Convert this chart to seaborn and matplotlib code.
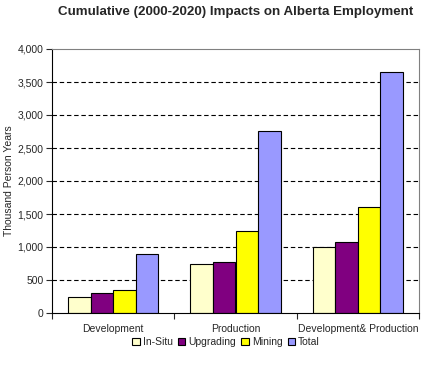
import matplotlib
matplotlib.use("Agg")
import matplotlib.pyplot as plt
import seaborn as sns
import pandas as pd
import numpy as np
from matplotlib.ticker import FuncFormatter, MultipleLocator, FixedLocator

categories = ["Development", "Production", "Development& Production"]
series = ["In-Situ", "Upgrading", "Mining", "Total"]
in_situ = [250, 750, 1000]
upgrading = [300, 770, 1075]
mining = [350, 1250, 1600]
total = [900, 2760, 3655]
colors = ["#FFFFCC", "#800080", "#FFFF00", "#9999FF"]

rows = []
for s, vals in zip(series, [in_situ, upgrading, mining, total]):
    for c, v in zip(categories, vals):
        rows.append({"Category": c, "Series": s, "Value": v})
df = pd.DataFrame(rows)

sns.set_style("white")
plt.rcParams["font.family"] = ["Liberation Sans", "DejaVu Sans"]

fig = plt.figure(figsize=(4.26, 3.70), dpi=100)
ax = fig.add_axes([52/426, 1 - 313/370, (419-52)/426, (313-49)/370])

sns.barplot(data=df, x="Category", y="Value", hue="Series", palette=colors,
            saturation=1, width=0.74, edgecolor="black", linewidth=0.8, ax=ax, legend=True)

ax.set_ylim(0, 4000)
ax.set_xlim(-0.5, 2.5)
ax.yaxis.set_major_locator(MultipleLocator(500))
ax.yaxis.set_major_formatter(FuncFormatter(lambda v, p: f"{int(v):,}"))
for y in range(500, 4000, 500):
    ax.axhline(y, color="black", linestyle=(0, (4, 2.5)), linewidth=0.8, zorder=0)
ax.set_axisbelow(True)

ax.set_xlabel("")
ax.set_ylabel("Thousand Person Years", fontsize=7.5, labelpad=3)
ax.tick_params(axis="y", labelsize=7.5, length=4, direction="out", left=True, width=0.8, pad=2)
ax.tick_params(axis="x", which="major", labelsize=7.5, length=0, pad=8)
ax.xaxis.set_minor_locator(FixedLocator([-0.5, 0.5, 1.5, 2.5]))
ax.tick_params(axis="x", which="minor", length=4, width=0.8, bottom=True, direction="out")

for side in ["top", "right"]:
    ax.spines[side].set_visible(True)
    ax.spines[side].set_color("#808080")
    ax.spines[side].set_linewidth(0.8)
for side in ["left", "bottom"]:
    ax.spines[side].set_color("black")
    ax.spines[side].set_linewidth(0.8)

leg = ax.legend(loc="center", bbox_to_anchor=(226/426, 1 - 342/370),
                bbox_transform=fig.transFigure, ncol=4, frameon=False,
                fontsize=7.5, handlelength=0.7, handleheight=0.7,
                handletextpad=0.3, columnspacing=0.5, borderpad=0)

fig.text(236/426, 1 - 12/370, "Cumulative (2000-2020) Impacts on Alberta Employment",
         ha="center", va="center", fontsize=9.6, fontweight="bold")

fig.savefig("out.png", dpi=100)
